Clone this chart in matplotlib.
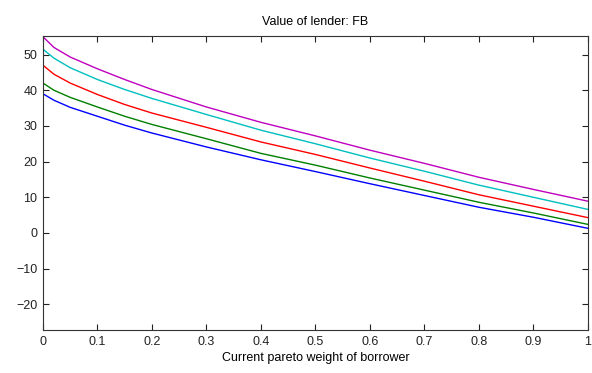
import matplotlib
matplotlib.use("Agg")
import matplotlib.pyplot as plt
import numpy as np

# Pareto weight grid and lender value for each series
weight = [0.0, 0.02, 0.05, 0.1, 0.15, 0.2, 0.3, 0.4, 0.5, 0.6, 0.7, 0.8, 0.9, 1.0]
value_b = [39.0, 37.2, 35.2, 32.7, 30.2, 28.0, 24.1, 20.5, 17.2, 13.8, 10.5, 7.2, 4.4, 1.3]
value_g = [42.0, 40.0, 38.0, 35.3, 32.7, 30.4, 26.4, 22.3, 19.0, 15.4, 12.0, 8.6, 5.6, 2.4]
value_r = [47.0, 44.5, 42.0, 38.8, 36.0, 33.6, 29.6, 25.5, 22.0, 18.2, 14.5, 10.7, 7.5, 4.3]
value_c = [51.5, 49.0, 46.3, 43.0, 40.2, 37.7, 33.2, 28.8, 25.0, 21.0, 17.3, 13.4, 10.0, 6.6]
value_m = [55.0, 52.0, 49.3, 46.0, 43.0, 40.2, 35.3, 31.0, 27.2, 23.2, 19.5, 15.6, 12.2, 8.9]

series = [
    (value_b, "#0000ff"),
    (value_g, "#008000"),
    (value_r, "#ff0000"),
    (value_c, "#00bfbf"),
    (value_m, "#bf00bf"),
]

plt.rcParams["font.family"] = ["Liberation Sans", "DejaVu Sans"]

fig = plt.figure(figsize=(5.92, 3.73), dpi=100)
ax = fig.add_axes([0.0726, 0.1153, 0.9204, 0.7882])

for vals, col in series:
    ax.plot(weight, vals, color=col, linewidth=1.0)

ax.set_xlim(0, 1)
ax.set_ylim(-27.2, 55.2)
ax.set_xticks(np.arange(0, 1.01, 0.1))
ax.set_xticklabels(["0", "0.1", "0.2", "0.3", "0.4", "0.5", "0.6", "0.7", "0.8", "0.9", "1"])
ax.set_yticks(np.arange(-20, 51, 10))
ax.tick_params(direction="in", top=True, right=True, length=4, width=0.8,
               labelsize=9, colors="#222222", pad=4)
for sp in ax.spines.values():
    sp.set_linewidth(0.8)
    sp.set_color("#333333")

ax.set_title("Value of lender: FB", fontsize=9, pad=8)
ax.set_xlabel("Current pareto weight of borrower", fontsize=9, labelpad=3)

fig.savefig("out.png", dpi=100)
